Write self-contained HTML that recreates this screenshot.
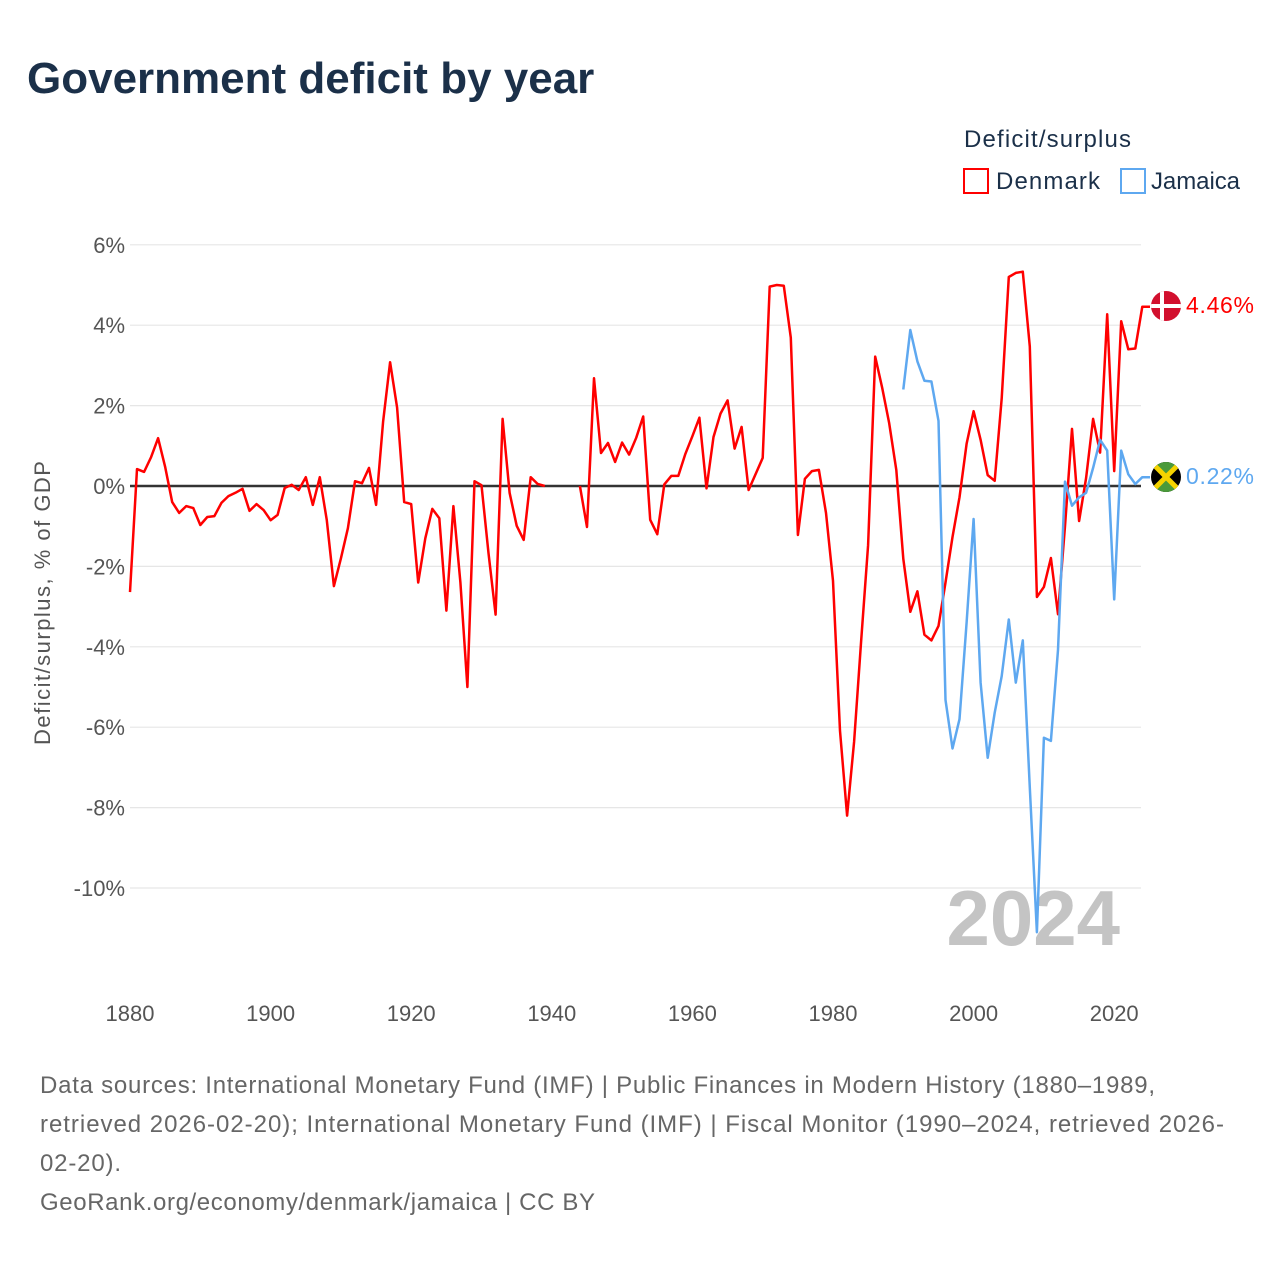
<!DOCTYPE html>
<html><head><meta charset="utf-8"><style>
body{margin:0;background:#fff;font-family:"Liberation Sans",sans-serif;}
#wrap{position:relative;width:1280px;height:1280px;overflow:hidden;}
</style></head><body>
<div id="wrap">
<svg id="chart" width="1280" height="1280" xmlns="http://www.w3.org/2000/svg">
<text x="27" y="93" font-size="44" font-weight="bold" fill="#1b3049">Government deficit by year</text>
<text x="964" y="147" font-size="24" fill="#1b3049" textLength="167">Deficit/surplus</text>
<g>
<rect x="964" y="169" width="24" height="24" fill="none" stroke="#ff0000" stroke-width="2"/>
<text x="996" y="189" font-size="24" fill="#1b3049" textLength="104">Denmark</text></g>
<g>
<rect x="1121" y="169" width="24" height="24" fill="none" stroke="#5ea8f0" stroke-width="2"/>
<text x="1151" y="189" font-size="24" fill="#1b3049" textLength="89">Jamaica</text></g>
<g id="grid"></g><g id="yticks"></g><g id="xticks"></g>
<text transform="translate(50,603) rotate(-90)" text-anchor="middle" font-size="22" fill="#555" textLength="284">Deficit/surplus, % of GDP</text>
<text x="1120" y="945" text-anchor="end" font-size="78" font-weight="bold" fill="#c4c4c4">2024</text>
<g id="series"></g>
<g>
<clipPath id="cd"><circle cx="1166" cy="306" r="15"/></clipPath>
<g clip-path="url(#cd)"><rect x="1150" y="290" width="32" height="32" fill="#d2102e"/><rect x="1160" y="290" width="4" height="32" fill="#fff"/><rect x="1150" y="304" width="32" height="4" fill="#fff"/></g></g>
<g>
<clipPath id="cj"><circle cx="1166" cy="477" r="15"/></clipPath>
<g clip-path="url(#cj)"><rect x="1150" y="461" width="32" height="32" fill="#000"/><polygon points="1150,461 1182,461 1166,477" fill="#4a9a3a"/><polygon points="1150,493 1182,493 1166,477" fill="#4a9a3a"/><line x1="1150" y1="461" x2="1182" y2="493" stroke="#f5d300" stroke-width="5"/><line x1="1182" y1="461" x2="1150" y2="493" stroke="#f5d300" stroke-width="5"/></g></g>
<text x="1186" y="313" font-size="23" fill="#ff0000" textLength="68">4.46%</text>
<text x="1186" y="484" font-size="23" fill="#5ea8f0" textLength="68">0.22%</text>
<g font-size="24" fill="#666">
<text x="40" y="1093" textLength="1115">Data sources: International Monetary Fund (IMF) | Public Finances in Modern History (1880–1989,</text>
<text x="40" y="1132" textLength="1184">retrieved 2026-02-20); International Monetary Fund (IMF) | Fiscal Monitor (1990–2024, retrieved 2026-</text>
<text x="40" y="1171" textLength="81">02-20).</text>
<text x="40" y="1210" textLength="555">GeoRank.org/economy/denmark/jamaica | CC BY</text>
</g>
</svg>
</div>
<script>
const denmarkStart = 1880;
const denmarkValues = [-2.64,0.42,0.35,0.72,1.19,0.47,-0.4,-0.67,-0.5,-0.55,
-0.97,-0.77,-0.75,-0.42,-0.25,-0.17,-0.07,-0.62,-0.45,-0.6,
-0.85,-0.72,-0.05,0.03,-0.1,0.22,-0.47,0.22,-0.85,-2.49,
-1.8,-1.05,0.12,0.07,0.45,-0.47,1.6,3.08,1.95,-0.4,
-0.45,-2.4,-1.3,-0.57,-0.8,-3.1,-0.5,-2.4,-5.0,0.12,
0.02,-1.67,-3.2,1.67,-0.17,-0.99,-1.34,0.22,0.05,0.0,
null,null,null,null,0.0,-1.02,2.68,0.82,1.07,0.6,
1.08,0.78,1.2,1.73,-0.84,-1.2,0.04,0.25,0.25,0.8,
1.24,1.7,-0.06,1.22,1.8,2.13,0.93,1.47,-0.1,0.3,
0.7,4.96,5.0,4.98,3.69,-1.22,0.18,0.37,0.4,-0.67,
-2.36,-6.09,-8.2,-6.36,-3.87,-1.47,3.22,2.44,1.56,0.4,
-1.81,-3.13,-2.62,-3.7,-3.84,-3.48,-2.4,-1.27,-0.28,1.05,
1.86,1.15,0.27,0.13,2.18,5.2,5.3,5.33,3.47,-2.76,
-2.51,-1.79,-3.19,-1.0,1.42,-0.87,0.2,1.67,0.83,4.27,
0.37,4.1,3.4,3.42,4.46];
const jamaicaStart = 1990;
const jamaicaValues = [2.4,3.88,3.1,2.62,2.6,1.62,-5.32,-6.53,-5.8,-3.4,
-0.82,-4.89,-6.76,-5.64,-4.73,-3.32,-4.89,-3.84,-7.5,-11.1,
-6.26,-6.34,-4.08,0.11,-0.49,-0.28,-0.17,0.45,1.15,0.88,
-2.82,0.88,0.29,0.05,0.22];
const yTicks = [6,4,2,0,-2,-4,-6,-8,-10];
const xTicks = [1880,1900,1920,1940,1960,1980,2000,2020];

const NS = "http://www.w3.org/2000/svg";
const X0 = 130, X1 = 1141;
function xs(yr){ return 130 + (yr-1880)*7.03; }
function ys(v){ return 486 - v*40.2; }
function mk(tag, attrs, parent){
  const e = document.createElementNS(NS, tag);
  for (const k in attrs) e.setAttribute(k, attrs[k]);
  parent.appendChild(e); return e;
}
const grid = document.getElementById('grid');
const yt = document.getElementById('yticks');
yTicks.forEach(t=>{
  const l = mk('line',{x1:X0,x2:X1,y1:ys(t),y2:ys(t),stroke:t===0?'#333':'#e6e6e6','stroke-width':t===0?2.5:1.2},grid);
  
  
  const tx = mk('text',{x:125,y:ys(t)+8,'text-anchor':'end','font-size':22,fill:'#555'},yt);
  tx.textContent = t+'%';
  
  
});
const xt = document.getElementById('xticks');
xTicks.forEach(t=>{
  const tx = mk('text',{x:xs(t),y:1021,'text-anchor':'middle','font-size':22,fill:'#555'},xt);
  tx.textContent = t;
  
  
});
function drawSeries(start, vals, color, name){
  let d = '', pen = false, lastY = 0;
  vals.forEach((v,i)=>{
    if (v===null){ pen=false; return; }
    d += (pen?'L':'M') + xs(start+i).toFixed(1) + ',' + ys(v).toFixed(1);
    lastY = ys(v);
    pen = true;
  });
  d += 'L1150,' + lastY.toFixed(1);
  const p = mk('path',{d:d,fill:'none',stroke:color,'stroke-width':2.5,'stroke-linejoin':'round'},document.getElementById('series'));
  
  
}
drawSeries(denmarkStart, denmarkValues, '#ff0000', 'denmark-line');
drawSeries(jamaicaStart, jamaicaValues, '#5ea8f0', 'jamaica-line');
</script>
</body></html>
